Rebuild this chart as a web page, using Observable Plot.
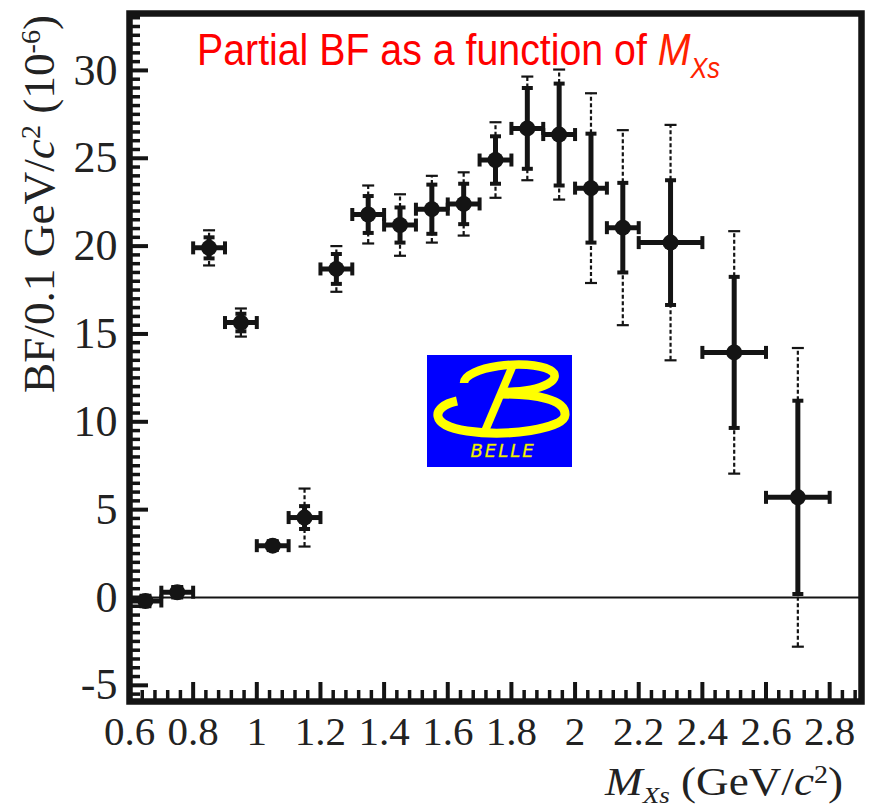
<!DOCTYPE html>
<html>
<head>
<meta charset="utf-8">
<script src="https://cdn.jsdelivr.net/npm/d3@7"></script>
<script src="https://cdn.jsdelivr.net/npm/@observablehq/plot@0.6"></script>
<style>
  html, body { margin: 0; padding: 0; background: #fff; }
  #wrap { position: relative; width: 875px; height: 809px; overflow: hidden; background: #fff; }
  #title { position: absolute; left: 197px; top: 27px; font-family: "Liberation Sans Narrow", "Liberation Sans", Arial, sans-serif;
           font-size: 45px; line-height: 1; color: #ff0000; white-space: nowrap; transform-origin: 0 0; }
  #title .m { color: #ff2200; font-style: italic; }
  #title .sub { position: relative; top: 13px; font-size: 29px; font-style: italic; color: #ff2200; }
  #ylabel { position: absolute; left: 0; top: 0; font-family: "Liberation Serif", "Times New Roman", serif; font-size: 45px;
            line-height: 1; color: #222; white-space: nowrap; transform-origin: 0 0; }
  #xlabel { position: absolute; left: 605px; top: 762px; font-family: "Liberation Serif", "Times New Roman", serif; font-size: 40px;
            line-height: 1; color: #222; white-space: nowrap; transform-origin: 0 0; }
  .sup { position: relative; top: -0.5em; font-size: 0.62em; }
  .xs { position: relative; top: 0.35em; font-size: 0.6em; font-style: italic; }
  #wrap #logo { position: absolute; left: 427px; top: 355px; }
</style>
</head>
<body>
<div id="wrap">
  <div id="title">Partial BF as a function of <span class="m">M</span><span class="sub">Xs</span></div>
  <div id="ylabel">BF/0.1 GeV/<i>c</i><span class="sup">2</span> (10<span class="sup">-6</span>)</div>
  <div id="xlabel"><i>M</i><span class="xs">Xs</span> (GeV/<i>c</i><span class="sup">2</span>)</div>
  <svg id="logo" width="145" height="112" viewBox="0 0 145 112">
    <rect x="0" y="0" width="145" height="112" fill="#0000ff"/>
    <g fill="none" stroke="#ffff00" stroke-linecap="butt">
      <path d="M 37,28 C 37,12 100,3 123,15 C 137,23 119,37 74,37" stroke-width="8.5"/>
      <path d="M 30,46 C 3,52 3,71 40,76 C 80,82 137,74 138,60 C 139,44 108,39 72,39" stroke-width="9"/>
      <path d="M 86,10 L 58,76" stroke-width="8"/>
    </g>
    <text x="76" y="102" text-anchor="middle" font-family="DejaVu Sans, sans-serif" font-style="italic" font-size="18"
          letter-spacing="2" fill="#ffff00" stroke="#c8c800" stroke-width="0.4">BELLE</text>
  </svg>
</div>
<script>
// ---- data ----
const xCenter  = [0.65, 0.75, 0.85, 0.95, 1.05, 1.15, 1.25, 1.35, 1.45, 1.55, 1.65, 1.75, 1.85, 1.95, 2.05, 2.15, 2.3, 2.5, 2.7];
const xHalf    = [0.05, 0.05, 0.05, 0.05, 0.05, 0.05, 0.05, 0.05, 0.05, 0.05, 0.05, 0.05, 0.05, 0.05, 0.05, 0.05, 0.1, 0.1, 0.1];
const bfValue  = [-0.2, 0.3, 19.9, 15.65, 2.95, 4.55, 18.7, 21.8, 21.2, 22.1, 22.4, 24.9, 26.7, 26.35, 23.3, 21.05, 20.2, 13.95, 5.7];
const statErr  = [0.25, 0.25, 0.6, 0.5, 0.25, 0.65, 0.85, 1.05, 1.0, 1.4, 1.15, 1.35, 2.3, 2.9, 3.1, 2.55, 3.55, 4.3, 5.5];
const totErr   = [0.35, 0.35, 1.0, 0.8, 0.3, 1.65, 1.3, 1.65, 1.75, 1.9, 1.8, 2.15, 2.95, 3.7, 5.4, 5.55, 6.7, 6.9, 8.5];
const yMajor   = [-5, 0, 5, 10, 15, 20, 25, 30];
const xMajor   = [0.6, 0.8, 1, 1.2, 1.4, 1.6, 1.8, 2, 2.2, 2.4, 2.6, 2.8];
const yMinor   = d3.range(-11, 67).filter(i => i % 10 !== 0).map(i => i / 2).filter(v => !yMajor.includes(v));
const xMinor   = d3.range(16, 73).filter(i => i % 5 !== 0).map(i => Math.round(i * 4) / 100);

const rows = xCenter.map((x, i) => ({
  x, xlo: x - xHalf[i], xhi: x + xHalf[i], y: bfValue[i],
  sLo: bfValue[i] - statErr[i], sHi: bfValue[i] + statErr[i],
  tLo: bfValue[i] - totErr[i], tHi: bfValue[i] + totErr[i]
}));

const W = 875, H = 809, mt = 13, mb = 108, ml = 129, mr = 14;
const fw = W - ml - mr, fh = H - mt - mb;
const ink = "#141414";

const hLine = {draw(ctx, size) { const r = Math.sqrt(size / Math.PI); ctx.moveTo(-r, 0); ctx.lineTo(r, 0); }};
const vLine = {draw(ctx, size) { const r = Math.sqrt(size / Math.PI); ctx.moveTo(0, -r); ctx.lineTo(0, r); }};

const chart = Plot.plot({
  width: W, height: H,
  marginTop: mt, marginBottom: mb, marginLeft: ml, marginRight: mr,
  style: {fontFamily: "'Liberation Serif', 'Times New Roman', serif", color: "#222", background: "transparent"},
  x: {domain: [0.6, 2.9]},
  y: {domain: [-5.92, 33.24]},
  marks: [
    Plot.ruleY([0], {stroke: ink, strokeWidth: 2}),
    // inward ticks
    Plot.tickY(yMinor, {y: d => d, insetRight: fw - 11, stroke: ink, strokeWidth: 3.5}),
    Plot.tickY(yMajor, {y: d => d, insetRight: fw - 19, stroke: ink, strokeWidth: 4}),
    Plot.tickX(xMinor, {x: d => d, insetTop: fh - 11, stroke: ink, strokeWidth: 3.5}),
    Plot.tickX(xMajor.slice(1), {x: d => d, insetTop: fh - 19, stroke: ink, strokeWidth: 4}),
    Plot.frame({stroke: ink, strokeWidth: 6.5}),
    // total (dashed) error
    Plot.ruleX(rows, {x: "x", y1: "tLo", y2: "sLo", stroke: ink, strokeWidth: 2.2, strokeDasharray: "4,2.5"}),
    Plot.ruleX(rows, {x: "x", y1: "sHi", y2: "tHi", stroke: ink, strokeWidth: 2.2, strokeDasharray: "4,2.5"}),
    Plot.dot(rows, {x: "x", y: "tHi", symbol: hLine, r: 6, stroke: ink, strokeWidth: 2.2, fill: "none"}),
    Plot.dot(rows, {x: "x", y: "tLo", symbol: hLine, r: 6, stroke: ink, strokeWidth: 2.2, fill: "none"}),
    // statistical (solid) error
    Plot.ruleX(rows, {x: "x", y1: "sLo", y2: "sHi", stroke: ink, strokeWidth: 5}),
    Plot.dot(rows, {x: "x", y: "sHi", symbol: hLine, r: 5.5, stroke: ink, strokeWidth: 4, fill: "none"}),
    Plot.dot(rows, {x: "x", y: "sLo", symbol: hLine, r: 5.5, stroke: ink, strokeWidth: 4, fill: "none"}),
    // bin width
    Plot.ruleY(rows, {y: "y", x1: "xlo", x2: "xhi", stroke: ink, strokeWidth: 5}),
    Plot.dot(rows, {x: "xlo", y: "y", symbol: vLine, r: 6.5, stroke: ink, strokeWidth: 4, fill: "none"}),
    Plot.dot(rows, {x: "xhi", y: "y", symbol: vLine, r: 6.5, stroke: ink, strokeWidth: 4, fill: "none"}),
    Plot.dot(rows, {x: "x", y: "y", r: 8, fill: ink, stroke: "none"}),
    // axes (labels only; ticks drawn inward above)
    Plot.axisY({ticks: yMajor, tickSize: 0, tickPadding: 12, fontSize: 44, tickFormat: d => String(d), label: null}),
    Plot.axisX({ticks: xMajor, tickSize: 0, tickPadding: 14, fontSize: 41, tickFormat: d => String(d), label: null})
  ]
});
chart.style.position = "absolute";
chart.style.left = "0px";
chart.style.top = "0px";
const wrap = document.getElementById("wrap");
wrap.insertBefore(chart, wrap.firstChild);

function fit() {
  const t = document.getElementById("title");
  t.style.transform = "none";
  const tw = t.getBoundingClientRect().width;
  t.style.transform = `scaleX(${523 / tw})`;

  const yl = document.getElementById("ylabel");
  yl.style.transform = "none";
  const yw = yl.getBoundingClientRect().width;
  const sy = 378 / yw;
  yl.style.transform = `translate(17px, 393px) rotate(-90deg) scaleX(${sy})`;

  const xl = document.getElementById("xlabel");
  xl.style.transform = "none";
  const xw = xl.getBoundingClientRect().width;
  xl.style.transform = `scaleX(${238 / xw})`;
}
fit();
if (document.fonts && document.fonts.ready) document.fonts.ready.then(fit);
</script>
</body>
</html>
